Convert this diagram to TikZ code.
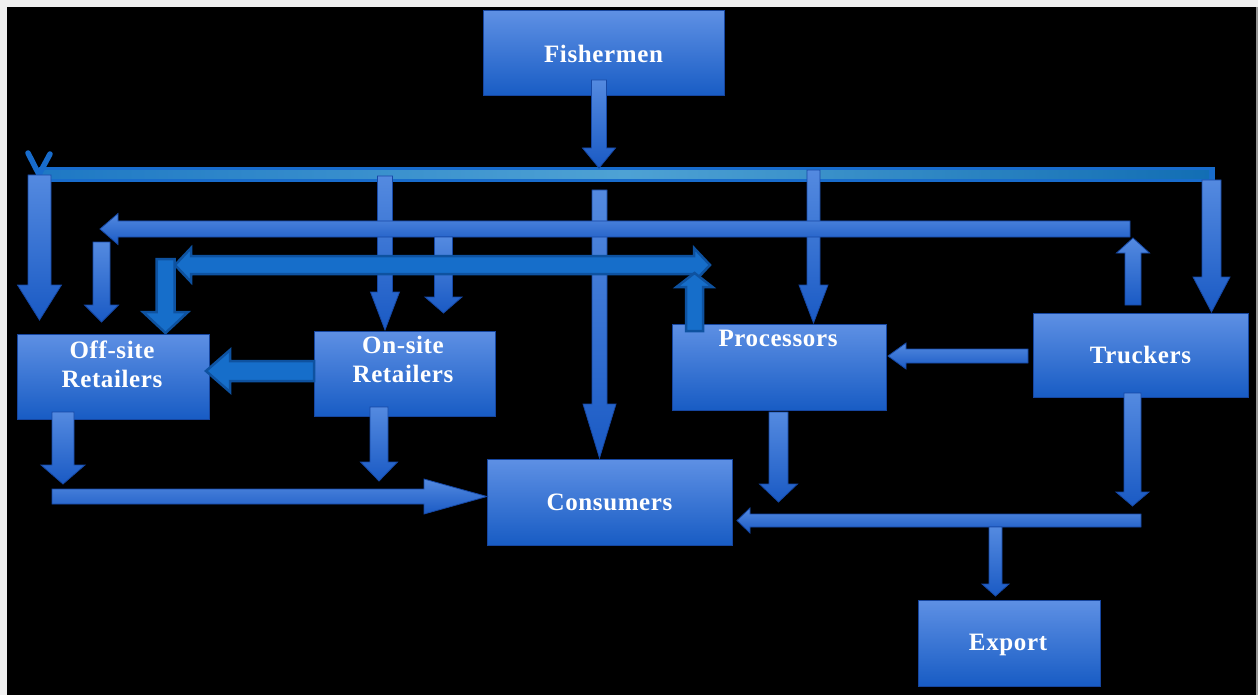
\documentclass[tikz,border=0pt]{standalone}
\usepackage{fontspec}
\setmainfont{Liberation Serif}[LetterSpace=2.5]
\usetikzlibrary{calc}

\definecolor{boxtop}{RGB}{94,144,228}
\definecolor{boxbot}{RGB}{24,92,196}
\definecolor{boxedge}{RGB}{22,70,160}
\definecolor{arrtop}{RGB}{84,138,224}
\definecolor{arrbot}{RGB}{26,90,196}
\definecolor{arredge}{RGB}{22,72,165}
\definecolor{olfill}{RGB}{22,110,202}
\definecolor{oledge}{RGB}{14,82,160}
\definecolor{busedge}{RGB}{24,108,204}
\definecolor{busA}{RGB}{30,120,196}
\definecolor{busB}{RGB}{78,162,212}
\definecolor{busC}{RGB}{18,110,180}
\definecolor{framegray}{RGB}{240,240,240}
\definecolor{edgegray}{RGB}{150,150,150}

\tikzset{
  box/.style={draw=boxedge, line width=1pt, top color=boxtop, bottom color=boxbot,
    inner sep=0pt, text=white, font=\fontsize{25}{29}\selectfont\bfseries, align=center},
  boxtext/.style={text=white, inner sep=0pt, font=\fontsize{25}{29}\selectfont\bfseries, align=center},
  flow/.style={draw=arredge, line width=0.8pt, top color=arrtop, bottom color=arrbot, line join=miter},
  olflow/.style={draw=oledge, line width=2.5pt, fill=olfill, line join=miter},
}

% block arrow: #2 tail, #3 tip, #4 half shaft width, #5 half head width, #6 head length
\newcommand{\blockarrow}[6][flow]{%
  \coordinate (hb) at ($(#3)!#6!(#2)$);
  \path[#1] ($(#2)!#4!90:(#3)$) -- ($(hb)!#4!-90:(#2)$) -- ($(hb)!#5!-90:(#2)$) -- (#3)
    -- ($(hb)!#5!90:(#2)$) -- ($(hb)!#4!90:(#2)$) -- ($(#2)!#4!-90:(#3)$) -- cycle;
}
% two-headed block arrow between tips #2 and #3
\newcommand{\twinarrow}[6][olflow]{%
  \coordinate (hba) at ($(#2)!#6!(#3)$);
  \coordinate (hbb) at ($(#3)!#6!(#2)$);
  \path[#1] (#2) -- ($(hba)!#5!90:(#3)$) -- ($(hba)!#4!90:(#3)$) -- ($(hbb)!#4!-90:(#2)$)
    -- ($(hbb)!#5!-90:(#2)$) -- (#3) -- ($(hbb)!#5!90:(#2)$) -- ($(hbb)!#4!90:(#2)$)
    -- ($(hba)!#4!-90:(#3)$) -- ($(hba)!#5!-90:(#3)$) -- cycle;
}

\begin{document}
\begin{tikzpicture}[x=1pt, y=-1pt]
\useasboundingbox (0,0) rectangle (1258,695);
% frame and background
\fill[framegray] (0,0) rectangle (1258,695);
\fill[black] (7,7) rectangle (1256,695);
\fill[edgegray] (1256,7) rectangle (1258,695);

% ---- boxes ----
\node[box, minimum width=241pt, minimum height=85pt] (fish) at (603.5,53.5) {Fishermen};
\node[box, minimum width=192pt, minimum height=85pt] (off) at (113,376.5) {};
\node[boxtext] (offtxt) at (112,364) {Off-site\\Retailers};
\node[box, minimum width=181pt, minimum height=85pt] (on) at (404.5,373.5) {};
\node[boxtext] (ontxt) at (403,359) {On-site\\Retailers};
\node[box, minimum width=245pt, minimum height=86pt] (cons) at (609.5,502) {Consumers};
\node[box, minimum width=214pt, minimum height=86pt] (proc) at (779,367) {};
\node[boxtext] (proctxt) at (778,338) {Processors};
\node[box, minimum width=215pt, minimum height=84pt] (truck) at (1140.5,355) {Truckers};
\node[box, minimum width=182pt, minimum height=86pt] (exp) at (1009,643) {};
\node[boxtext] (exptxt) at (1008,645) {Export};

% ---- main distribution line ----
\coordinate (busL) at (39,174.5);
\coordinate (busR) at (1215,174.5);
\draw[busedge, line width=15pt] (busL) -- (busR);
\shade[left color=busA, right color=busC, middle color=busB] (40,170.5) rectangle (1209,178.5);
\coordinate (vA) at (28,153);
\coordinate (vB) at (50,154);
\draw[busedge, line width=5.5pt, line cap=round, line join=miter] (vA) -- (busL) -- (vB);

% ---- fishermen to main line ----
\coordinate (fishOut) at (599,80);
\coordinate (busIn) at (599,168);
\blockarrow{fishOut}{busIn}{7.5pt}{16.5pt}{20pt}

% ---- main line to actors ----
\coordinate (b1) at (39.5,175);   \coordinate (offIn1) at (39.5,320);
\blockarrow{b1}{offIn1}{11.5pt}{22pt}{35pt}
\coordinate (b2) at (385,176);    \coordinate (onIn1) at (385,330);
\blockarrow{b2}{onIn1}{7.5pt}{14.5pt}{38pt}
\coordinate (b3) at (813.5,170);  \coordinate (procIn) at (813.5,323);
\blockarrow{b3}{procIn}{6.5pt}{14.5pt}{38pt}
\coordinate (b4) at (1211.5,180); \coordinate (truckIn) at (1211.5,312);
\blockarrow{b4}{truckIn}{9.5pt}{18.5pt}{35pt}
\coordinate (b5) at (599.5,190);  \coordinate (consIn1) at (599.5,458);
\blockarrow{b5}{consIn1}{7.5pt}{16.5pt}{54pt}

% ---- truckers' return line ----
\coordinate (rtR) at (1130,229);
\coordinate (rtL) at (100,229);
\blockarrow{rtR}{rtL}{8pt}{15.5pt}{18pt}

% ---- truckers' return line connections ----
\coordinate (truckUpA) at (1133,305); \coordinate (truckUpB) at (1133,238);
\blockarrow{truckUpA}{truckUpB}{8pt}{16.5pt}{15pt}
\coordinate (r1) at (101.5,242); \coordinate (offIn2) at (101.5,322);
\blockarrow{r1}{offIn2}{8.5pt}{17pt}{17pt}
\coordinate (r2) at (443.5,237); \coordinate (onIn2) at (443.5,313);
\blockarrow{r2}{onIn2}{9pt}{18.5pt}{16pt}

% ---- shared line between retailers and processors ----
\coordinate (shL) at (175,265);
\coordinate (shR) at (710,265);
\twinarrow{shL}{shR}{9pt}{17pt}{16pt}
\coordinate (shDownA) at (165.5,259);
\coordinate (shDownB) at (165.5,333);
\blockarrow[olflow]{shDownA}{shDownB}{9pt}{22.5pt}{21pt}
\coordinate (procUpA) at (694.5,331);
\coordinate (procUpB) at (694.5,273);
\blockarrow[olflow]{procUpA}{procUpB}{8.5pt}{18pt}{14pt}

% ---- between actors ----
\coordinate (onOut) at (314,371); \coordinate (offIn3) at (206,371);
\blockarrow[olflow]{onOut}{offIn3}{10pt}{21pt}{24pt}
\coordinate (truckOut) at (1028,356); \coordinate (procIn2) at (888,356);
\blockarrow{truckOut}{procIn2}{7pt}{13pt}{18pt}

% ---- retailers to consumers ----
\coordinate (offOut) at (63,412); \coordinate (lowL) at (63,484);
\blockarrow{offOut}{lowL}{11pt}{22pt}{19pt}
\coordinate (onOut2) at (379,407); \coordinate (lowM) at (379,481);
\blockarrow{onOut2}{lowM}{9pt}{18.5pt}{19pt}
\coordinate (lowStart) at (52,496.5); \coordinate (consIn2) at (487,496.5);
\blockarrow{lowStart}{consIn2}{7.5pt}{17.5pt}{63pt}

% ---- processors and truckers to consumers / export ----
\coordinate (procOut) at (778.5,412); \coordinate (lowP) at (778.5,502);
\blockarrow{procOut}{lowP}{9.5pt}{19pt}{18pt}
\coordinate (truckOut2) at (1132.5,393); \coordinate (lowT) at (1132.5,506);
\blockarrow{truckOut2}{lowT}{8.5pt}{16.5pt}{14pt}
\coordinate (lowRStart) at (1141,520.5); \coordinate (consIn3) at (737,520.5);
\blockarrow{lowRStart}{consIn3}{6.5pt}{12.5pt}{13pt}
\coordinate (expA) at (995.5,527); \coordinate (expIn) at (995.5,596);
\blockarrow{expA}{expIn}{6.5pt}{13.5pt}{12pt}
\end{tikzpicture}
\end{document}
